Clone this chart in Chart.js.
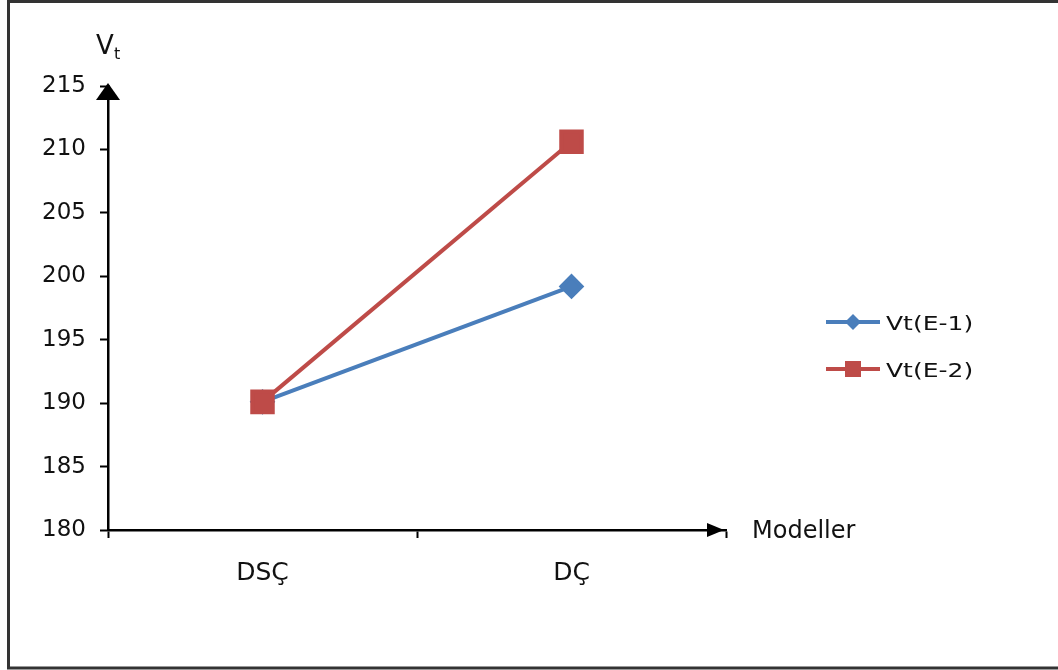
<!DOCTYPE html>
<html lang="tr">
<head>
<meta charset="UTF-8">
<title>Vt - Modeller</title>
<script src="https://cdn.jsdelivr.net/npm/chart.js"></script>
<style>
html, body { margin: 0; padding: 0; background: #fff; }
#wrap { width: 1058px; height: 670px; position: relative; }
</style>
</head>
<body>
<div id="wrap"><canvas id="myChart"></canvas></div>

<script>
// data
var categories = ['DSÇ', 'DÇ'];
var vtE1 = [190.1, 199.2];
var vtE2 = [190.1, 210.6];
var seriesNames = ['Vt(E-1)', 'Vt(E-2)'];
var yTicks = [180, 185, 190, 195, 200, 205, 210, 215];

var blue = '#4a7ebb';
var red = '#be4b48';
var font = '"DejaVu Sans", sans-serif';

// frame, axis arrows, axis titles and legend
var extras = {
  id: 'extras',
  afterDraw: function (chart) {
    var ctx = chart.ctx;
    var area = chart.chartArea;
    ctx.save();

    // outer frame (left, top, bottom)
    ctx.strokeStyle = '#333';
    ctx.lineWidth = 3;
    ctx.beginPath();
    ctx.moveTo(1060, 1.5);
    ctx.lineTo(8.5, 1.5);
    ctx.lineTo(8.5, 668);
    ctx.lineTo(1060, 668);
    ctx.stroke();

    // arrow heads
    ctx.fillStyle = '#000';
    ctx.beginPath();
    ctx.moveTo(area.left, area.top - 3);
    ctx.lineTo(area.left - 12, area.top + 14);
    ctx.lineTo(area.left + 12, area.top + 14);
    ctx.closePath();
    ctx.fill();
    ctx.beginPath();
    ctx.moveTo(area.right - 2, area.bottom);
    ctx.lineTo(area.right - 19, area.bottom - 7);
    ctx.lineTo(area.right - 19, area.bottom + 7);
    ctx.closePath();
    ctx.fill();

    // axis titles
    ctx.fillStyle = '#111';
    ctx.textBaseline = 'alphabetic';
    ctx.textAlign = 'left';
    ctx.font = '26px ' + font;
    ctx.fillText('V', 96, 54);
    ctx.font = '16px ' + font;
    ctx.fillText('t', 114, 59);
    ctx.font = '24px ' + font;
    ctx.fillText('Modeller', 752, 538);

    // legend
    var rows = [{ y: 322, i: 0 }, { y: 369, i: 1 }];
    rows.forEach(function (r) {
      var ds = chart.data.datasets[r.i];
      ctx.strokeStyle = ds.borderColor;
      ctx.lineWidth = 4;
      ctx.beginPath();
      ctx.moveTo(826, r.y);
      ctx.lineTo(880, r.y);
      ctx.stroke();
      ctx.fillStyle = ds.backgroundColor;
      ctx.beginPath();
      if (ds.pointStyle === 'rect') {
        ctx.rect(853 - 8, r.y - 8, 16, 16);
      } else {
        ctx.moveTo(853, r.y - 8);
        ctx.lineTo(861, r.y);
        ctx.lineTo(853, r.y + 8);
        ctx.lineTo(845, r.y);
        ctx.closePath();
      }
      ctx.fill();
      ctx.fillStyle = '#111';
      ctx.font = '20px ' + font;
      ctx.save();
      ctx.translate(886, r.y + 8);
      ctx.scale(1.25, 1);
      ctx.fillText(seriesNames[r.i], 0, 0);
      ctx.restore();
    });
    ctx.restore();
  }
};

new Chart(document.getElementById('myChart'), {
  type: 'line',
  data: {
    labels: categories,
    datasets: [{
      label: seriesNames[0],
      data: vtE1,
      borderColor: blue,
      backgroundColor: blue,
      borderWidth: 4,
      pointStyle: 'rectRot',
      pointRadius: 10,
      pointHoverRadius: 10,
      order: 1
    }, {
      label: seriesNames[1],
      data: vtE2,
      borderColor: red,
      backgroundColor: red,
      borderWidth: 4,
      pointStyle: 'rect',
      pointRadius: 14.5,
      pointHoverRadius: 14.5,
      order: 0
    }]
  },
  options: {
    responsive: true,
    maintainAspectRatio: false,
    animation: false,
    events: [],
    layout: { padding: { left: 0, top: 86, right: 332, bottom: 0 } },
    plugins: {
      legend: { display: false },
      tooltip: { enabled: false }
    },
    scales: {
      x: {
        offset: true,
        afterFit: function (s) { s.height = 140; },
        grid: {
          offset: true,
          drawOnChartArea: false,
          tickLength: 8,
          tickColor: '#000',
          tickWidth: 2
        },
        border: { color: '#000', width: 2.5 },
        ticks: {
          color: '#111',
          padding: 20,
          font: { family: font, size: 25 }
        }
      },
      y: {
        min: yTicks[0],
        max: yTicks[yTicks.length - 1],
        afterFit: function (s) { s.width = 108; },
        afterBuildTicks: function (s) {
          s.ticks = yTicks.map(function (v) { return { value: v }; });
        },
        grid: {
          drawOnChartArea: false,
          tickLength: 8,
          tickColor: '#000',
          tickWidth: 2
        },
        border: { color: '#000', width: 2.5 },
        ticks: {
          color: '#111',
          padding: 14,
          font: { family: font, size: 23 }
        }
      }
    }
  },
  plugins: [extras]
});
</script>
</body>
</html>
